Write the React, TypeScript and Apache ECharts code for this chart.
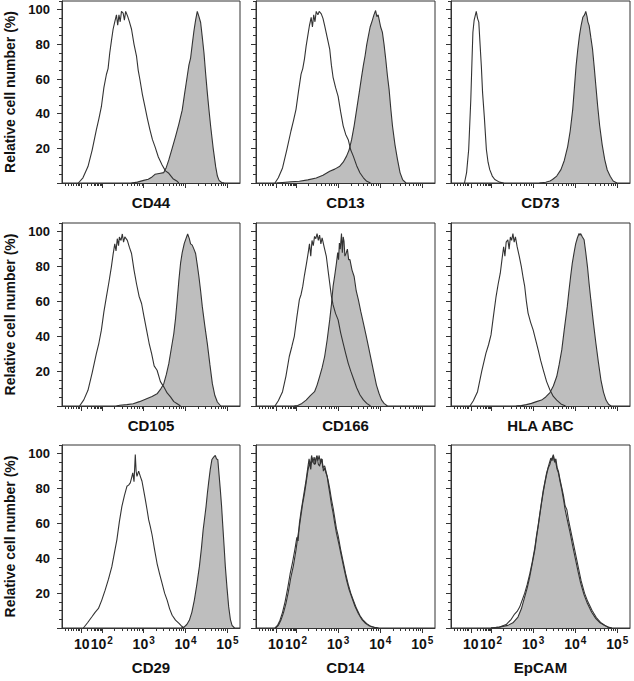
import React, { useEffect, useRef } from "react";
import * as echarts from "echarts";

type Pt = [number, number];

// x values are positions on the biexponential display axis (2 = 10², 3 = 10³, ...)
const PANEL_NAMES = ["CD44", "CD13", "CD73", "CD105", "CD166", "HLA ABC", "CD29", "CD14", "EpCAM"];
const X_TICK_BASE = ["10", "10", "10", "10", "10"];
const X_TICK_EXP = ["", "2", "3", "4", "5"];
const X_TICK_POS = [1.52, 2, 3, 4, 5];
const Y_TICK_LABELS = [20, 40, 60, 80, 100];
const Y_NAME = "Relative cell number (%)";

const CD44_ISO: Pt[] = [[1.44,0],[1.55,3],[1.67,9.5],[1.77,19],[1.87,30.7],[1.93,37],[1.99,44],[2.05,55],[2.11,62.6],[2.15,66],[2.19,75],[2.23,82],[2.27,88.7],[2.31,93],[2.35,97],[2.38,91],[2.41,97],[2.44,93],[2.47,99],[2.51,98],[2.54,94],[2.57,99],[2.62,96],[2.66,93],[2.71,88.7],[2.77,80],[2.83,73],[2.87,65],[2.91,59.7],[2.97,51],[3.03,44],[3.09,37],[3.15,30.7],[3.21,25],[3.27,21],[3.35,15],[3.44,10.4],[3.52,7],[3.6,5.6],[3.7,2.5],[3.8,1],[3.84,0]];
const CD44_POS: Pt[] = [[2.71,0],[2.85,0.5],[3.0,1.5],[3.11,2.2],[3.2,3.5],[3.27,5],[3.37,5.5],[3.48,6],[3.54,9],[3.6,13.3],[3.68,20],[3.76,26.8],[3.84,34],[3.92,42],[3.98,52],[4.04,61.6],[4.08,68],[4.12,72],[4.16,80],[4.2,87.7],[4.24,94],[4.28,99],[4.32,96],[4.36,92.6],[4.4,84],[4.44,75],[4.48,63],[4.52,52],[4.56,42],[4.6,32.6],[4.66,20],[4.72,9.3],[4.76,4],[4.8,1.5],[4.86,0.3],[4.92,0]];

const CD13_ISO: Pt[] = [[1.5,0],[1.58,3],[1.68,8.7],[1.78,19],[1.88,30],[1.94,36],[2.0,42.5],[2.06,53],[2.12,62.8],[2.16,66],[2.2,71.5],[2.24,79],[2.28,85],[2.32,91],[2.36,95.6],[2.39,90],[2.42,97],[2.45,93],[2.48,99],[2.52,97],[2.55,99],[2.6,97.6],[2.64,95],[2.68,90.8],[2.74,84],[2.8,77.3],[2.84,68],[2.88,61],[2.94,55],[3.0,50],[3.06,41],[3.12,33],[3.18,28],[3.24,25],[3.3,19],[3.36,15.5],[3.44,10],[3.52,5.8],[3.6,3],[3.68,1],[3.77,0]];
const CD13_POS: Pt[] = [[1.55,0],[1.68,0.3],[1.88,0.7],[2.08,1],[2.28,1.8],[2.48,2.9],[2.64,4.5],[2.8,6.8],[2.92,8],[3.04,9.7],[3.12,12],[3.2,15.5],[3.26,19],[3.32,25],[3.38,33],[3.44,42.5],[3.5,52],[3.56,61.8],[3.6,68],[3.64,73.4],[3.68,80],[3.72,85],[3.76,90],[3.81,93.7],[3.85,97],[3.89,99.5],[3.92,96],[3.95,97],[3.97,94.7],[4.01,90],[4.05,87],[4.09,80],[4.13,71.5],[4.17,62],[4.21,54],[4.25,43],[4.29,33],[4.35,22],[4.41,13.5],[4.47,6],[4.53,2],[4.61,0]];

const CD73_ISO: Pt[] = [[1.37,0],[1.42,6],[1.47,19.3],[1.52,48],[1.55,72],[1.57,87],[1.6,94],[1.63,97],[1.65,99],[1.68,95],[1.71,92.8],[1.74,80],[1.77,67.6],[1.8,52],[1.84,38.6],[1.89,19.3],[1.93,12],[1.97,7.7],[2.03,4],[2.09,2],[2.2,0.5],[2.3,0]];
const CD73_POS: Pt[] = [[3.15,0],[3.3,0.4],[3.4,1.2],[3.46,2],[3.56,4],[3.66,7.7],[3.74,13],[3.82,21],[3.88,30],[3.94,42.5],[3.98,55],[4.02,67.6],[4.06,77],[4.1,85],[4.14,91],[4.18,95.6],[4.22,97],[4.25,99],[4.28,96],[4.3,93],[4.33,90.8],[4.37,84],[4.41,77.3],[4.45,67],[4.49,56],[4.53,45],[4.58,33],[4.64,22],[4.7,13.5],[4.76,7.5],[4.83,3.9],[4.9,1.2],[4.99,0]];

const CD105_ISO: Pt[] = [[1.47,0],[1.57,3.5],[1.67,9],[1.77,19],[1.87,30],[1.93,36],[1.99,43.5],[2.05,54],[2.11,62.6],[2.17,71],[2.23,80],[2.27,87],[2.31,93],[2.34,89],[2.37,96],[2.4,92],[2.42,97],[2.46,95],[2.49,98.7],[2.52,94],[2.55,97],[2.61,95],[2.66,91],[2.71,87.5],[2.77,78],[2.83,70],[2.89,63],[2.95,58.8],[3.01,51],[3.07,43.5],[3.13,36],[3.19,30],[3.25,23],[3.32,20.5],[3.4,14],[3.48,11],[3.56,7.5],[3.64,5.2],[3.72,2.5],[3.8,1.3],[3.88,0]];
const CD105_POS: Pt[] = [[2.35,0],[2.43,0.4],[2.6,0.8],[2.75,1.3],[2.9,2.5],[3.07,4.2],[3.2,5.5],[3.32,7],[3.4,9.5],[3.48,12.8],[3.54,18],[3.6,24.3],[3.66,33],[3.72,41.6],[3.76,50],[3.8,60.7],[3.84,72],[3.88,81.8],[3.92,88],[3.97,93.3],[4.01,96],[4.05,98.7],[4.09,96],[4.12,93],[4.16,92.3],[4.2,90],[4.24,87.5],[4.28,81],[4.32,74],[4.36,66],[4.4,57],[4.46,46],[4.52,35.8],[4.58,24],[4.64,12.8],[4.7,6],[4.76,2.3],[4.84,0]];

const CD166_ISO: Pt[] = [[1.5,0],[1.58,3],[1.68,8.2],[1.76,17],[1.84,28.4],[1.9,34],[1.96,40],[2.02,51],[2.08,61],[2.12,64],[2.16,68.6],[2.2,75],[2.25,82],[2.29,88],[2.32,93],[2.35,86],[2.38,95],[2.41,92],[2.44,97.3],[2.47,96],[2.5,98.9],[2.53,95],[2.56,98],[2.59,93],[2.62,96.4],[2.67,91],[2.72,85.8],[2.76,78],[2.8,70.5],[2.84,63],[2.88,58],[2.94,53],[3.0,49.4],[3.06,42],[3.12,36],[3.18,30],[3.24,24.5],[3.3,20],[3.36,15.9],[3.44,10.5],[3.52,6.3],[3.6,3.5],[3.68,1.5],[3.77,0]];
const CD166_POS: Pt[] = [[1.96,0],[2.04,0.3],[2.14,1.5],[2.24,3.4],[2.34,6],[2.44,8.2],[2.5,12],[2.56,16.9],[2.62,22],[2.68,28.4],[2.74,38],[2.8,49.4],[2.84,58],[2.88,68.6],[2.92,75],[2.96,82],[2.99,88],[3.01,84],[3.03,93.5],[3.05,90],[3.08,98.9],[3.1,88],[3.12,97],[3.14,94.4],[3.16,86],[3.19,87.7],[3.22,90],[3.25,84],[3.28,84],[3.33,78],[3.38,74.3],[3.43,66],[3.48,61],[3.54,54],[3.6,47.5],[3.66,41],[3.72,34.1],[3.78,27],[3.85,18.8],[3.91,12],[3.97,7.3],[4.03,3.5],[4.09,1.5],[4.17,0]];

const HLA_ISO: Pt[] = [[1.5,0],[1.58,3],[1.68,8.2],[1.78,20],[1.88,30.3],[1.94,35],[2.0,40.8],[2.06,52],[2.12,62.8],[2.17,70],[2.22,76.2],[2.26,84],[2.3,91.4],[2.33,86],[2.36,94],[2.4,95.4],[2.43,90],[2.46,97],[2.49,95],[2.52,98.9],[2.55,94],[2.58,97],[2.62,91.4],[2.67,86],[2.72,80],[2.76,74],[2.8,68.6],[2.84,60],[2.88,53.3],[2.94,48],[3.0,43.7],[3.06,38],[3.12,32.2],[3.18,26],[3.24,20.7],[3.32,14],[3.4,9.2],[3.48,5.5],[3.56,3.4],[3.66,1.2],[3.77,0]];
const HLA_POS: Pt[] = [[2.6,0],[2.72,0.2],[2.84,0.8],[2.96,1.5],[3.08,2.5],[3.2,3.4],[3.3,5.2],[3.4,7.7],[3.48,11.5],[3.56,16.9],[3.62,24],[3.68,32.2],[3.74,44],[3.81,57],[3.85,66],[3.89,74.3],[3.93,82],[3.97,87.7],[4.01,93],[4.05,96.4],[4.09,99],[4.11,98],[4.13,98.9],[4.17,97],[4.21,95.4],[4.25,88],[4.29,80],[4.33,70],[4.37,61],[4.43,48],[4.49,36],[4.55,25],[4.61,14.9],[4.67,8],[4.73,3.4],[4.79,1],[4.85,0]];

const CD29_ISO: Pt[] = [[1.56,0],[1.66,3],[1.76,6.3],[1.84,9],[1.92,11.2],[2.0,16],[2.08,21.7],[2.16,28],[2.24,35.2],[2.3,43],[2.36,50.6],[2.42,61],[2.48,69.8],[2.54,76],[2.6,81.3],[2.64,82],[2.68,83.3],[2.71,86],[2.74,89],[2.77,84],[2.8,99.6],[2.82,90],[2.84,87],[2.88,90],[2.92,87],[2.96,84.2],[3.0,79],[3.04,73.7],[3.08,68],[3.12,62],[3.16,58],[3.2,53.5],[3.26,45],[3.32,37],[3.38,31],[3.44,25.6],[3.5,20],[3.56,16],[3.62,11],[3.68,7.3],[3.76,4.5],[3.85,2.5],[3.91,1],[3.97,0]];
const CD29_POS: Pt[] = [[3.9,0],[3.97,0.6],[4.03,2],[4.09,4.4],[4.15,9],[4.21,16],[4.27,25],[4.33,35.2],[4.38,46],[4.42,56.3],[4.46,64],[4.49,69.8],[4.52,77],[4.55,83.3],[4.59,91],[4.63,96.7],[4.67,98],[4.71,99],[4.74,97],[4.77,96.7],[4.8,88],[4.83,79.4],[4.86,70],[4.89,58.3],[4.92,47],[4.95,35.2],[4.99,23],[5.03,12.1],[5.07,5],[5.11,1.5],[5.17,0]];

const CD14_ISO: Pt[] = [[1.5,0],[1.56,1.5],[1.62,4.5],[1.68,9],[1.74,15],[1.8,22.5],[1.86,31],[1.92,38],[1.98,46],[2.02,52],[2.05,50],[2.08,60],[2.12,67],[2.16,73],[2.2,79],[2.24,85],[2.28,92],[2.31,97],[2.34,93],[2.37,99],[2.4,95],[2.43,98],[2.46,94],[2.49,98.5],[2.52,96],[2.55,99],[2.58,94],[2.61,97],[2.64,92],[2.68,93],[2.72,89],[2.76,85],[2.8,80],[2.84,74],[2.88,69],[2.92,63],[2.96,57],[3.0,53],[3.06,45],[3.12,38],[3.18,31],[3.24,25],[3.3,20],[3.36,16],[3.44,11],[3.52,7],[3.6,4.3],[3.68,2.5],[3.76,1.2],[3.86,0.4],[3.96,0]];
const CD14_POS: Pt[] = [[1.52,0],[1.58,1.5],[1.64,4.4],[1.7,8.5],[1.76,14],[1.82,21],[1.88,29.4],[1.94,36],[2.0,44.8],[2.04,52],[2.08,58.3],[2.12,65],[2.16,71.7],[2.2,77],[2.24,83.3],[2.28,90],[2.32,94.8],[2.35,91],[2.38,97.7],[2.41,95],[2.44,93.8],[2.47,97],[2.5,99],[2.53,94],[2.56,92.9],[2.59,97],[2.62,96.7],[2.65,90],[2.68,92],[2.71,89],[2.74,87],[2.77,82],[2.8,77.5],[2.84,71],[2.88,66],[2.92,60],[2.96,54.4],[3.02,48],[3.08,41],[3.14,34],[3.2,27.5],[3.26,22],[3.32,17.9],[3.4,12.5],[3.48,8.3],[3.56,5],[3.64,2.9],[3.72,1.5],[3.81,0.6],[3.93,0]];

const EPCAM_ISO: Pt[] = [[2.0,0],[2.2,0.6],[2.36,2],[2.48,5],[2.56,8],[2.62,9.5],[2.68,12],[2.74,16],[2.8,20],[2.86,25],[2.92,31],[2.98,38],[3.04,46],[3.08,53],[3.12,59],[3.16,66],[3.2,72.5],[3.24,79],[3.28,84],[3.32,89],[3.36,92.5],[3.39,95],[3.42,97.5],[3.45,96],[3.48,99.5],[3.51,95],[3.54,97],[3.57,92],[3.6,90],[3.64,85],[3.68,80.5],[3.72,76],[3.76,70],[3.8,68],[3.84,62],[3.9,55],[3.96,48],[4.02,41],[4.08,34],[4.14,27],[4.22,20],[4.3,15],[4.4,10],[4.5,6],[4.6,3.2],[4.7,1.6],[4.78,0.6],[4.87,0]];
const EPCAM_POS: Pt[] = [[2.0,0],[2.2,0.5],[2.4,1.5],[2.52,3],[2.64,6.3],[2.72,11],[2.8,17.9],[2.86,23],[2.92,29.4],[2.98,37],[3.04,44.8],[3.08,52],[3.12,58.3],[3.16,65],[3.2,71.7],[3.24,78],[3.28,83.3],[3.32,88],[3.36,92],[3.4,94],[3.43,96.7],[3.46,98],[3.48,99],[3.5,96],[3.52,97],[3.54,94.8],[3.57,91],[3.6,89],[3.64,84],[3.68,79.4],[3.72,74],[3.76,67.9],[3.82,61],[3.88,54.4],[3.94,47],[4.01,39],[4.07,32],[4.13,25.6],[4.21,19],[4.29,14],[4.39,9],[4.49,5.4],[4.59,3],[4.69,1.5],[4.77,0.5],[4.85,0]];

const ISO_SERIES: Pt[][] = [CD44_ISO, CD13_ISO, CD73_ISO, CD105_ISO, CD166_ISO, HLA_ISO, CD29_ISO, CD14_ISO, EPCAM_ISO];
const POS_SERIES: Pt[][] = [CD44_POS, CD13_POS, CD73_POS, CD105_POS, CD166_POS, HLA_POS, CD29_POS, CD14_POS, EPCAM_POS];

// layout
const COL_LEFT = [62, 256, 451];
const COL_WIDTH = [178, 179, 179];
const ROW_TOP = [1, 223, 445];
const ROW_HEIGHT = [182, 183, 183];
const X_MIN = 1.05;
const X_MAX = 5.3;
const Y_MAX = 105;

const FONT = "'Liberation Sans', Arial, Helvetica, sans-serif";
const LINE = "#333333";
const FILL = "#bebebe";
const TEXT = "#111111";

function minorXTicks(): number[] {
  const t: number[] = [1.12, 1.2, 1.27, 1.33, 1.38, 1.43, 1.47];
  for (let m = 2; m <= 9; m++) t.push(1.52 + 0.48 * Math.log10(m));
  for (let k = 2; k <= 4; k++) for (let m = 2; m <= 9; m++) t.push(k + Math.log10(m));
  return t;
}
const Y_MINOR: number[] = [];
for (let v = 5; v <= Y_MAX; v += 5) if (v % 20 !== 0) Y_MINOR.push(v);

export default function App() {
  const ref = useRef<HTMLDivElement>(null);
  useEffect(() => {
    if (!ref.current) return;
    const chart = echarts.init(ref.current, undefined, { renderer: "svg" });
    const grids: any[] = [];
    const xAxes: any[] = [];
    const yAxes: any[] = [];
    const series: any[] = [];
    const minor = minorXTicks();
    for (let i = 0; i < 9; i++) {
      const row = Math.floor(i / 3);
      const col = i % 3;
      grids.push({
        left: COL_LEFT[col], top: ROW_TOP[row], width: COL_WIDTH[col], height: ROW_HEIGHT[row],
        show: true, borderColor: LINE, borderWidth: 1, backgroundColor: "#fff",
      });
      xAxes.push({
        gridIndex: i, type: "value", min: X_MIN, max: X_MAX, position: "bottom",
        axisLine: { show: true, onZero: false, lineStyle: { color: LINE, width: 1 } },
        axisTick: { show: true, length: 5, customValues: X_TICK_POS, lineStyle: { color: LINE, width: 1 } },
        axisLabel: {
          show: row === 2, customValues: X_TICK_POS, margin: 5, hideOverlap: false,
          formatter: (v: number) => {
            const k = X_TICK_POS.findIndex((p) => Math.abs(p - v) < 1e-6);
            if (k < 0) return "";
            return X_TICK_EXP[k] ? `{b|${X_TICK_BASE[k]}}{s|${X_TICK_EXP[k]}}` : `{b|${X_TICK_BASE[k]}}`;
          },
          rich: {
            b: { fontSize: 14, fontWeight: "bold", color: TEXT, fontFamily: FONT, lineHeight: 21 },
            s: { fontSize: 10, fontWeight: "bold", color: TEXT, fontFamily: FONT, padding: [0, 0, 7, 1] },
          },
        },
        splitLine: { show: false },
        name: PANEL_NAMES[i], nameLocation: "middle", nameGap: row === 2 ? 32 : 12,
        nameTextStyle: { fontSize: 15, fontWeight: "bold", color: TEXT, fontFamily: FONT },
      });
      xAxes.push({
        gridIndex: i, type: "value", min: X_MIN, max: X_MAX, position: "bottom",
        axisLine: { show: false, onZero: false },
        axisTick: { show: true, length: 3, customValues: minor, lineStyle: { color: LINE, width: 1 } },
        axisLabel: { show: false },
        splitLine: { show: false },
      });
      yAxes.push({
        gridIndex: i, type: "value", min: 0, max: Y_MAX, position: "left",
        axisLine: { show: true, onZero: false, lineStyle: { color: LINE, width: 1 } },
        axisTick: { show: true, length: 5, customValues: [0, ...Y_TICK_LABELS], lineStyle: { color: LINE, width: 1 } },
        axisLabel: {
          show: col === 0, customValues: Y_TICK_LABELS, margin: 12,
          fontSize: 13, fontWeight: "bold", color: TEXT, fontFamily: FONT,
        },
        splitLine: { show: false },
        name: col === 0 ? Y_NAME : "", nameLocation: "middle", nameGap: 45, nameRotate: 90,
        nameTextStyle: { fontSize: 14, fontWeight: "bold", color: TEXT, fontFamily: FONT },
      });
      yAxes.push({
        gridIndex: i, type: "value", min: 0, max: Y_MAX, position: "left",
        axisLine: { show: false, onZero: false },
        axisTick: { show: true, length: 3, customValues: Y_MINOR, lineStyle: { color: LINE, width: 1 } },
        axisLabel: { show: false },
        splitLine: { show: false },
      });
      series.push({
        type: "line", xAxisIndex: 2 * i, yAxisIndex: 2 * i, data: POS_SERIES[i],
        symbol: "none", lineStyle: { color: LINE, width: 1.1 },
        areaStyle: { color: FILL, opacity: 1 }, z: 2, silent: true,
      });
      series.push({
        type: "line", xAxisIndex: 2 * i, yAxisIndex: 2 * i, data: ISO_SERIES[i],
        symbol: "none", lineStyle: { color: LINE, width: 1.1 }, z: 3, silent: true,
      });
    }
    chart.setOption({
      animation: false,
      textStyle: { fontFamily: FONT },
      grid: grids,
      xAxis: xAxes,
      yAxis: yAxes,
      series,
    });
    return () => chart.dispose();
  }, []);
  return (
    <div
      ref={ref}
      style={{ position: "absolute", left: 0, top: 0, width: 634, height: 681, background: "#fff" }}
    />
  );
}
